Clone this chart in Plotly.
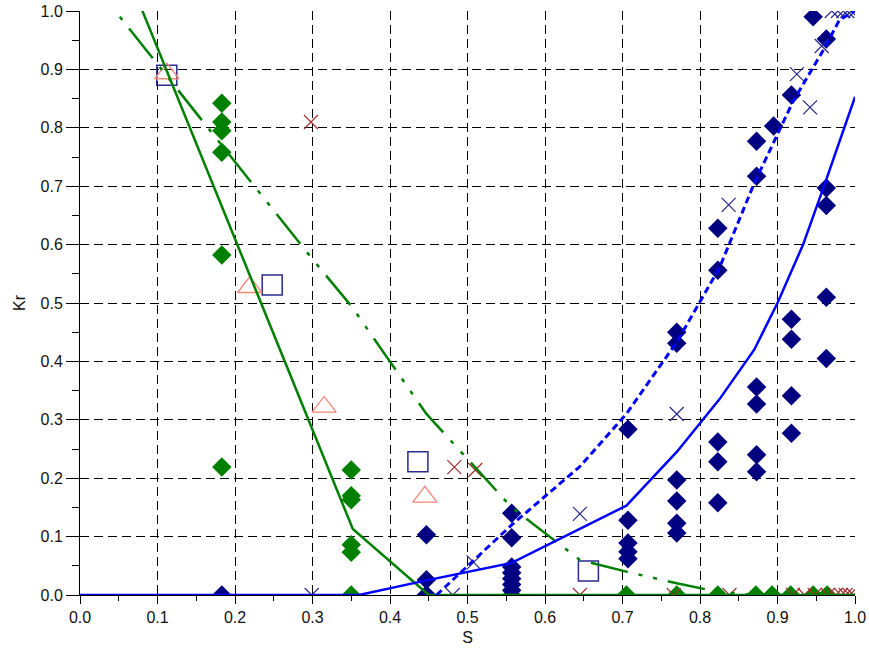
import plotly.graph_objects as go

# ---------------- data ----------------
# green diamonds (oil data)
oil_s = [0.183, 0.183, 0.183, 0.183, 0.183, 0.183,
         0.35, 0.35, 0.35, 0.35, 0.35, 0.35,
         0.447, 0.557, 0.705, 0.77, 0.823, 0.872, 0.893, 0.917, 0.946, 0.964]
oil_kr = [0.842, 0.81, 0.795, 0.758, 0.582, 0.219,
          0.214, 0.17, 0.163, 0.086, 0.073, 0.0,
          0.0, 0.0, 0.0, 0.0, 0.0, 0.0, 0.0, 0.0, 0.0, 0.0]

# navy diamonds (water data)
wat_s = [0.183,
         0.447, 0.447, 0.447,
         0.557, 0.557, 0.557, 0.557, 0.557, 0.557, 0.557,
         0.707, 0.707, 0.707, 0.707, 0.707,
         0.77, 0.77, 0.77, 0.77, 0.77, 0.77,
         0.823, 0.823, 0.823, 0.823, 0.823,
         0.873, 0.873, 0.873, 0.873, 0.873, 0.873,
         0.895,
         0.918, 0.918, 0.918, 0.918, 0.918,
         0.946,
         0.963, 0.963, 0.963, 0.963, 0.963]
wat_kr = [0.0,
          0.103, 0.026, 0.0,
          0.14, 0.098, 0.048, 0.038, 0.028, 0.018, 0.008,
          0.284, 0.128, 0.089, 0.074, 0.062,
          0.45, 0.431, 0.197, 0.161, 0.123, 0.106,
          0.628, 0.556, 0.262, 0.228, 0.158,
          0.777, 0.717, 0.356, 0.327, 0.240, 0.211,
          0.803,
          0.856, 0.472, 0.438, 0.341, 0.277,
          0.99,
          0.952, 0.697, 0.667, 0.51, 0.405]

# navy crosses
xw_s = [0.299, 0.481, 0.508, 0.645, 0.770, 0.837, 0.925, 0.942, 0.957,
        0.97, 0.978, 0.985, 0.99, 0.995, 1.0]
xw_kr = [0.0, 0.0, 0.056, 0.139, 0.31, 0.668, 0.892, 0.835, 0.94,
         1.0, 1.0, 1.0, 1.0, 1.0, 1.0]

# dark red crosses
xo_s = [0.298, 0.483, 0.51, 0.645, 0.766, 0.838, 0.92, 0.935, 0.948,
        0.965, 0.975, 0.982, 0.988, 0.993, 0.998]
xo_kr = [0.81, 0.219, 0.214, 0.0, 0.0, 0.0, 0.0, 0.0, 0.0,
         0.0, 0.0, 0.0, 0.0, 0.0, 0.0]

# open squares
sq_s = [0.112, 0.248, 0.436, 0.656]
sq_kr = [0.89, 0.531, 0.228, 0.041]

# open triangles
tr_s = [0.112, 0.219, 0.315, 0.445]
tr_kr = [0.893, 0.527, 0.322, 0.168]

# green solid model curve
kro1_s = [0.05, 0.352, 0.45, 1.0]
kro1_kr = [1.10, 0.113, 0.0, 0.0]

# green dash-dot model curve
kro2_s = [0.0, 0.113, 0.183, 0.30, 0.35, 0.447, 0.557, 0.645, 0.705, 0.77, 0.825, 0.87]
kro2_kr = [1.076, 0.886, 0.77, 0.575, 0.495, 0.31, 0.15, 0.06, 0.04, 0.02, 0.005, 0.0]

# blue solid model curve
krw1_s = [0.0, 0.36, 0.447, 0.557, 0.705, 0.77, 0.825, 0.87, 0.90, 0.933, 0.96, 1.0]
krw1_kr = [0.0, 0.0, 0.025, 0.055, 0.153, 0.245, 0.335, 0.42, 0.50, 0.60, 0.70, 0.853]

# blue dashed model curve
krw2_s = [0.46, 0.557, 0.645, 0.705, 0.77, 0.825, 0.87, 0.90, 0.92, 0.96, 0.98, 1.0]
krw2_kr = [0.0, 0.12, 0.22, 0.31, 0.433, 0.56, 0.705, 0.79, 0.845, 0.935, 0.985, 1.0]

x_ticks = [round(i * 0.1, 1) for i in range(11)]
y_ticks = [round(i * 0.1, 1) for i in range(11)]

GREEN = "#008000"
NAVY = "#000080"
BLUE = "#0000FF"
SALMON = "#F4877A"
DKRED = "#A03232"

fig = go.Figure()

fig.add_trace(go.Scatter(x=oil_s, y=oil_kr, mode="markers",
                         marker=dict(symbol="diamond", size=15, color=GREEN,
                                     line=dict(width=0))))
fig.add_trace(go.Scatter(x=wat_s, y=wat_kr, mode="markers",
                         marker=dict(symbol="diamond", size=15, color=NAVY,
                                     line=dict(width=0))))
fig.add_trace(go.Scatter(x=sq_s, y=sq_kr, mode="markers",
                         marker=dict(symbol="square-open", size=20, color="#2a2a90",
                                     line=dict(width=1.5))))
fig.add_trace(go.Scatter(x=tr_s, y=tr_kr, mode="markers",
                         marker=dict(symbol="triangle-up-open", size=21, color=SALMON,
                                     line=dict(width=1.3))))
fig.add_trace(go.Scatter(x=xw_s, y=xw_kr, mode="markers",
                         marker=dict(symbol="x-thin-open", size=14, color="#2a2a8a",
                                     line=dict(width=1.2, color="#2a2a8a"))))
fig.add_trace(go.Scatter(x=xo_s, y=xo_kr, mode="markers",
                         marker=dict(symbol="x-thin-open", size=14, color=DKRED,
                                     line=dict(width=1.2, color=DKRED))))

fig.add_trace(go.Scatter(x=kro1_s, y=kro1_kr, mode="lines",
                         line=dict(color=GREEN, width=2.5)))
fig.add_trace(go.Scatter(x=kro2_s, y=kro2_kr, mode="lines",
                         line=dict(color=GREEN, width=2.5,
                                   dash="38px,11px,4px,11px,4px,11px")))
fig.add_trace(go.Scatter(x=krw1_s, y=krw1_kr, mode="lines",
                         line=dict(color=BLUE, width=2.5)))
fig.add_trace(go.Scatter(x=krw2_s, y=krw2_kr, mode="lines",
                         line=dict(color=BLUE, width=3, dash="7px,4px")))

FONT = "Liberation Sans, Arial, sans-serif"

axis_common = dict(
    showgrid=True, gridcolor="#000000", gridwidth=1, griddash="9px,5px",
    zeroline=False, showline=True, linecolor="#000000", linewidth=1,
    ticks="outside", tickcolor="#000000", tickwidth=1,
    tickformat=".1f", automargin=False,
    tickfont=dict(family=FONT, size=16, color="#111111"),
)

fig.update_layout(
    width=869, height=650,
    margin=dict(l=80, r=14, t=11, b=55),
    paper_bgcolor="white", plot_bgcolor="white",
    showlegend=False,
    font=dict(family=FONT, size=16, color="#111111"),
    xaxis=dict(range=[0, 1.0], tickvals=x_ticks, ticklen=8,
               minor=dict(ticks="outside", ticklen=5, tickcolor="#000000",
                          dtick=0.05, showgrid=False),
               title=dict(text="S", font=dict(size=16), standoff=6), **axis_common),
    yaxis=dict(range=[0, 1.0], tickvals=y_ticks, ticklen=13,
               minor=dict(ticks="outside", ticklen=7, tickcolor="#000000",
                          dtick=0.05, showgrid=False),
               title=dict(text="Kr", font=dict(size=16), standoff=10), **axis_common),
)

fig.write_html("out.html", config={"displayModeBar": False},
               post_script="document.body.style.margin='0';")
